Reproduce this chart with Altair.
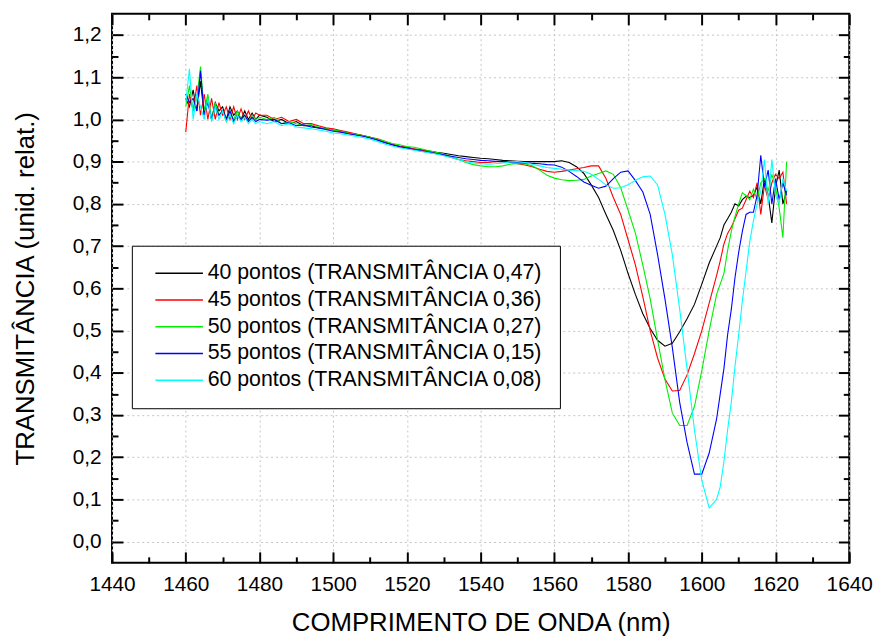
import altair as alt
import pandas as pd

# ---------------- data ----------------
wavelength = [
    1460, 1461, 1462, 1463, 1464, 1465, 1466, 1467, 1468, 1469, 1470,
    1471, 1472, 1473, 1474, 1475, 1476, 1477, 1478, 1479, 1480,
    1482, 1484, 1486, 1488, 1490, 1492, 1494, 1496, 1498, 1500,
    1502, 1504, 1506, 1508, 1510, 1512, 1514, 1516, 1518, 1520,
    1522, 1524, 1526, 1528, 1530, 1532, 1534, 1536, 1538, 1540,
    1542, 1544, 1546, 1548, 1550, 1552, 1554, 1556, 1558, 1560,
    1562, 1564, 1566, 1568, 1570, 1572, 1574, 1576, 1578, 1580,
    1582, 1584, 1586, 1588, 1590, 1592, 1594, 1596, 1598, 1600,
    1602, 1604,
    1605, 1606, 1607, 1608, 1609, 1610, 1611, 1612, 1613, 1614,
    1615, 1616, 1617, 1618, 1619, 1620, 1621, 1622, 1623,
]

t40 = [
    1.05, 1.03, 1.07, 1.02, 1.09, 1.01, 1.05, 1.00, 1.04, 1.02, 1.03,
    1.00, 1.03, 1.01, 1.02, 1.00, 1.02, 1.00, 1.015, 1.00, 1.01,
    1.005, 0.995, 1.0, 0.99, 0.995, 0.985, 0.985, 0.98, 0.978, 0.975,
    0.972, 0.968, 0.965, 0.962, 0.958, 0.952, 0.946, 0.94, 0.936, 0.934,
    0.93, 0.928, 0.925, 0.922, 0.92, 0.917, 0.914, 0.912, 0.91, 0.908,
    0.907, 0.905, 0.903, 0.902, 0.901, 0.9, 0.9, 0.9, 0.9, 0.9,
    0.902, 0.898, 0.888, 0.872, 0.845, 0.815, 0.775, 0.737, 0.69, 0.635,
    0.585, 0.54, 0.505, 0.477, 0.463, 0.47, 0.497, 0.528, 0.562, 0.61,
    0.66, 0.7,
    0.72, 0.75, 0.765, 0.78, 0.80, 0.795, 0.81, 0.818, 0.815, 0.82,
    0.84, 0.80, 0.86, 0.82, 0.755, 0.84, 0.88, 0.80, 0.83,
]

t45 = [
    0.97, 1.06, 1.02, 1.08, 1.01, 1.06, 1.00, 1.05, 1.00, 1.04, 1.01,
    1.03, 1.00, 1.03, 1.00, 1.025, 1.00, 1.02, 1.00, 1.015, 1.01,
    1.01, 1.0, 1.005, 0.995, 1.0, 0.99, 0.99, 0.985, 0.98, 0.978,
    0.974, 0.97, 0.966, 0.962, 0.958, 0.954, 0.948, 0.942, 0.937, 0.933,
    0.93, 0.927, 0.924, 0.92, 0.915, 0.91, 0.905, 0.902, 0.9, 0.898,
    0.898, 0.9, 0.9, 0.898, 0.895, 0.892, 0.888, 0.882, 0.877, 0.875,
    0.877, 0.88, 0.883, 0.886, 0.89, 0.89, 0.86, 0.815, 0.775, 0.715,
    0.655, 0.58, 0.5, 0.435, 0.385, 0.357, 0.358, 0.395, 0.445, 0.5,
    0.565, 0.63,
    0.665, 0.705, 0.73, 0.745, 0.765, 0.785, 0.79, 0.81, 0.83, 0.815,
    0.85, 0.775, 0.845, 0.81, 0.85, 0.87, 0.86, 0.875, 0.80,
]

t50 = [
    1.03, 1.08, 1.02, 1.05, 1.125, 1.02, 1.06, 1.00, 1.04, 1.01, 1.02,
    0.995, 1.02, 1.00, 1.02, 1.00, 1.01, 0.995, 1.01, 1.00, 1.005,
    1.0, 1.005, 0.99, 0.995, 0.99, 0.985, 0.988, 0.982, 0.978, 0.975,
    0.972, 0.968, 0.965, 0.962, 0.958, 0.953, 0.948, 0.943, 0.94, 0.936,
    0.934, 0.93, 0.926, 0.922, 0.918, 0.912, 0.905, 0.898, 0.893, 0.89,
    0.888, 0.888, 0.89, 0.894, 0.896, 0.895, 0.89, 0.88, 0.868, 0.861,
    0.857, 0.855, 0.856, 0.858, 0.866, 0.872, 0.878, 0.87, 0.838, 0.785,
    0.73, 0.655, 0.575, 0.478, 0.384, 0.305, 0.275, 0.275, 0.32, 0.405,
    0.5, 0.585,
    0.61, 0.635, 0.69, 0.735, 0.77, 0.80, 0.826, 0.82, 0.81, 0.835,
    0.81, 0.85, 0.86, 0.83, 0.87, 0.84, 0.79, 0.72, 0.90,
]

t55 = [
    1.06, 1.04, 1.05, 1.02, 1.115, 1.01, 1.04, 1.00, 1.03, 1.01, 1.02,
    1.00, 1.02, 0.995, 1.01, 1.00, 1.01, 0.995, 1.005, 0.995, 1.00,
    0.998, 1.0, 0.99, 0.992, 0.985, 0.987, 0.982, 0.98, 0.976, 0.972,
    0.97, 0.966, 0.963, 0.96, 0.956, 0.951, 0.945, 0.94, 0.935, 0.932,
    0.928, 0.925, 0.922, 0.919, 0.916, 0.913, 0.91, 0.907, 0.905, 0.903,
    0.902, 0.901, 0.9, 0.899, 0.898, 0.897, 0.896, 0.895, 0.893, 0.892,
    0.887, 0.877, 0.865, 0.852, 0.844, 0.837, 0.842, 0.86, 0.875, 0.878,
    0.855, 0.828, 0.775, 0.68, 0.575, 0.46, 0.33, 0.235, 0.16, 0.16,
    0.21, 0.29,
    0.35, 0.41, 0.49, 0.55, 0.625, 0.685, 0.735, 0.775, 0.78, 0.78,
    0.82, 0.915, 0.84, 0.88, 0.80, 0.86, 0.81, 0.85, 0.82,
]

t60 = [
    1.04, 1.12, 1.00, 1.06, 1.03, 1.00, 1.05, 0.995, 1.03, 1.00, 1.02,
    0.995, 1.01, 0.99, 1.01, 0.995, 1.005, 0.99, 1.00, 0.99, 0.995,
    0.99, 0.995, 0.985, 0.99, 0.982, 0.98, 0.978, 0.975, 0.972, 0.968,
    0.966, 0.963, 0.96, 0.957, 0.953, 0.948, 0.942, 0.937, 0.933, 0.93,
    0.927, 0.924, 0.921, 0.918, 0.914, 0.91, 0.905, 0.9, 0.897, 0.895,
    0.894, 0.895, 0.897, 0.899, 0.9, 0.898, 0.894, 0.89, 0.886, 0.884,
    0.882, 0.88, 0.879, 0.877, 0.87, 0.858, 0.845, 0.837, 0.838, 0.845,
    0.856, 0.864, 0.866, 0.845, 0.775, 0.68, 0.55, 0.41, 0.265, 0.145,
    0.08, 0.1,
    0.13, 0.19, 0.265, 0.33, 0.415, 0.49, 0.57, 0.64, 0.71, 0.76,
    0.80, 0.83, 0.905, 0.80, 0.905, 0.82, 0.80, 0.86, 0.83,
]

series_labels = [
    "40 pontos (TRANSMITÂNCIA 0,47)",
    "45 pontos (TRANSMITÂNCIA 0,36)",
    "50 pontos (TRANSMITÂNCIA 0,27)",
    "55 pontos (TRANSMITÂNCIA 0,15)",
    "60 pontos (TRANSMITÂNCIA 0,08)",
]
series_colors = ["#000000", "#ff0000", "#00ee00", "#0000ff", "#00ffff"]
series_values = [t40, t45, t50, t55, t60]

x_major = [1440, 1460, 1480, 1500, 1520, 1540, 1560, 1580, 1600, 1620, 1640]
x_minor = [1450, 1470, 1490, 1510, 1530, 1550, 1570, 1590, 1610, 1630]
y_major = [0.0, 0.1, 0.2, 0.3, 0.4, 0.5, 0.6, 0.7, 0.8, 0.9, 1.0, 1.1, 1.2]
y_minor = [0.05, 0.15, 0.25, 0.35, 0.45, 0.55, 0.65, 0.75, 0.85, 0.95, 1.05, 1.15]

rows = []
for label, vals in zip(series_labels, series_values):
    for w, v in zip(wavelength, vals):
        rows.append({"wl": w, "t": v, "serie": label})
df = pd.DataFrame(rows)

FONT = "Liberation Sans"
x_scale = alt.Scale(domain=[1440, 1640], nice=False, zero=False)
y_scale = alt.Scale(domain=[-0.05, 1.25], nice=False, zero=False)
comma_fmt = "replace(format(datum.value, '.1f'), '.', ',')"

MAJ = 11
MIN = 6

lines = alt.Chart(df).mark_line(strokeWidth=1.1, clip=True).encode(
    x=alt.X("wl:Q", scale=x_scale, axis=alt.Axis(
        orient="bottom", values=x_major, offset=-MAJ, tickSize=MAJ, tickWidth=2,
        tickColor="black", domain=False, grid=True, gridColor="#c4c4c4",
        gridDash=[2, 3], gridWidth=1, labelFontSize=21, labelFont=FONT,
        labelPadding=11, labelColor="black", format="d",
        labelFlush=False, labelOverlap=False,
        title="COMPRIMENTO DE ONDA (nm)", titleFontSize=26, titleFont=FONT,
        titleFontWeight="normal", titlePadding=15, titleColor="black")),
    y=alt.Y("t:Q", scale=y_scale, axis=alt.Axis(
        orient="left", values=y_major, offset=-MAJ, tickSize=MAJ, tickWidth=2,
        tickColor="black", domain=False, grid=True, gridColor="#c4c4c4",
        gridDash=[2, 3], gridWidth=1, labelFontSize=21, labelFont=FONT,
        labelPadding=11, labelColor="black", labelExpr=comma_fmt,
        labelFlush=False, labelOverlap=False,
        title="TRANSMITÂNCIA (unid. relat.)", titleFontSize=26, titleFont=FONT,
        titleFontWeight="normal", titlePadding=34, titleColor="black")),
    color=alt.Color("serie:N", scale=alt.Scale(domain=series_labels, range=series_colors),
                    legend=alt.Legend(
                        orient="none", legendX=20, legendY=234, title=None,
                        symbolType="M-3,0H3", symbolSize=256, symbolStrokeWidth=1.5,
                        symbolOffset=20, labelOffset=18, labelFontSize=21.5,
                        labelFont=FONT, labelColor="black", labelLimit=600,
                        padding=17, rowPadding=4, strokeColor="black",
                        fillColor="white")),
)

dummy = alt.Chart(pd.DataFrame({"wl": [1500], "t": [0.5]}))


def tick_layer(xorient, xvals, yorient, yvals, size):
    return dummy.mark_point(opacity=0).encode(
        x=alt.X("wl:Q", scale=x_scale, axis=alt.Axis(
            orient=xorient, values=xvals, offset=-size, tickSize=size, tickWidth=2,
            tickColor="black", domain=False, grid=False, labels=False, title=None)),
        y=alt.Y("t:Q", scale=y_scale, axis=alt.Axis(
            orient=yorient, values=yvals, offset=-size, tickSize=size, tickWidth=2,
            tickColor="black", domain=False, grid=False, labels=False, title=None)),
    )


chart = alt.layer(
    lines,
    tick_layer("bottom", x_minor, "left", y_minor, MIN),
    tick_layer("top", x_major, "right", y_major, MAJ),
    tick_layer("top", x_minor, "right", y_minor, MIN),
).resolve_axis(x="independent", y="independent").properties(
    width=744, height=554,
    autosize=alt.AutoSizeParams(type="none"),
    padding={"left": 105, "top": 3, "right": 27, "bottom": 76},
    background="white",
).configure_view(stroke="black", strokeWidth=2)

chart.save("out.html", embed_options={"renderer": "svg", "actions": False})
